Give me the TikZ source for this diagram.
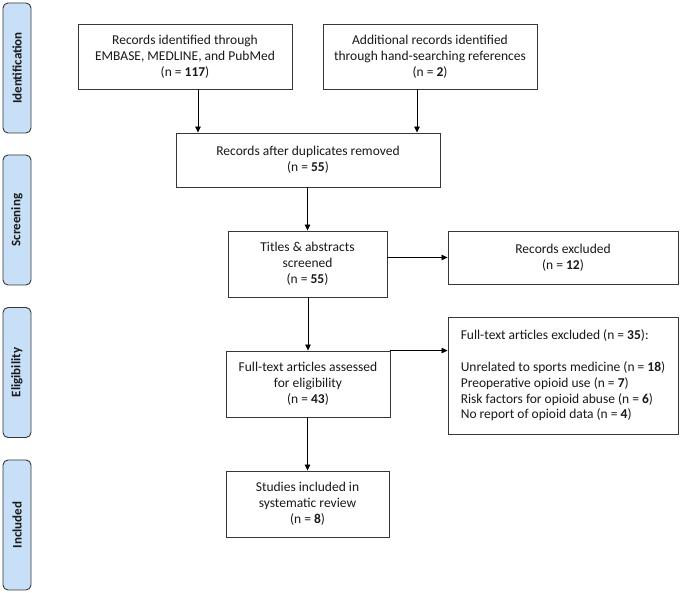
\documentclass[tikz,border=0pt]{standalone}
\usepackage{fontspec}
\setmainfont{Carlito}
\usetikzlibrary{arrows.meta}
\definecolor{sidefill}{RGB}{199,224,248}
\definecolor{linegray}{RGB}{55,55,55}
\definecolor{textgray}{RGB}{25,25,25}
\tikzset{
  box/.style={draw=linegray, line width=0.9pt, fill=white, align=center, inner sep=2pt,
    font=\fontsize{13.5}{15.8}\selectfont, text=textgray},
  sidebar/.style={draw=linegray, line width=0.9pt, fill=sidefill, rounded corners=5pt,
    minimum width=28pt, minimum height=130pt, inner sep=0pt},
  sidelabel/.style={rotate=90, font=\fontsize{13}{15}\selectfont\bfseries, text=textgray},
  arr/.style={draw=black, line width=0.8pt, -{Triangle[length=6pt,width=5.5pt]}},
}
\begin{document}
\begin{tikzpicture}[x=1pt,y=-1pt]
\useasboundingbox (0,0) rectangle (681,593);
% side bars
\node[sidebar] (s1) at (17,68) {};
\node[sidelabel] (l1) at (s1.center) {Identification};
\node[sidebar] (s2) at (17,220) {};
\node[sidelabel] (l2) at (s2.center) {Screening};
\node[sidebar] (s3) at (17,372.5) {};
\node[sidelabel] (l3) at (s3.center) {Eligibility};
\node[sidebar] (s4) at (17,525) {};
\node[sidelabel] (l4) at (s4.center) {Included};
% boxes
\node[box, minimum width=214pt, minimum height=65pt] (b1) at (185,56.5)
  {Records identified through\\EMBASE, MEDLINE, and PubMed\\(n = \textbf{117})};
\node[box, minimum width=214pt, minimum height=65pt] (b2) at (430,56.5)
  {Additional records identified\\through hand-searching references\\(n = \textbf{2})};
\node[box, minimum width=264pt, minimum height=54pt] (b3) at (308,160)
  {Records after duplicates removed\\(n = \textbf{55})};
\node[box, minimum width=159pt, minimum height=66pt] (b4) at (307.5,264)
  {Titles \& abstracts\\screened\\(n = \textbf{55})};
\node[box, minimum width=230pt, minimum height=53pt] (b5) at (563,257.5)
  {Records excluded\\(n = \textbf{12})};
\node[box, minimum width=164pt, minimum height=66pt] (b6) at (308,384)
  {Full-text articles assessed\\for eligibility\\(n = \textbf{43})};
\node[box, minimum width=230pt, minimum height=117pt, align=left] (b7) at (563,375.5)
  {Full-text articles excluded (n = \textbf{35}):\\[15.8pt]
   Unrelated to sports medicine (n = \textbf{18})\\
   Preoperative opioid use (n = \textbf{7})\\
   Risk factors for opioid abuse (n = \textbf{6})\\
   No report of opioid data (n = \textbf{4})};
\node[box, minimum width=163pt, minimum height=66pt] (b8) at (307.5,504)
  {Studies included in\\systematic review\\(n = \textbf{8})};
% connectors
\coordinate (a1) at (198,0);
\coordinate (a2) at (417,0);
\draw[arr] (b1.south -| a1) -- (b3.north -| a1);
\draw[arr] (b2.south -| a2) -- (b3.north -| a2);
\draw[arr] (b3.south -| b4.north) -- (b4.north);
\draw[arr] (b4.east |- b5.west) -- (b5.west);
\draw[arr] (b4.south -| b6.north) -- (b6.north);
\draw[arr] (b6.north east) -- (b7.west |- b6.north east);
\draw[arr] (b6.south -| b8.north) -- (b8.north);
\end{tikzpicture}
\end{document}
